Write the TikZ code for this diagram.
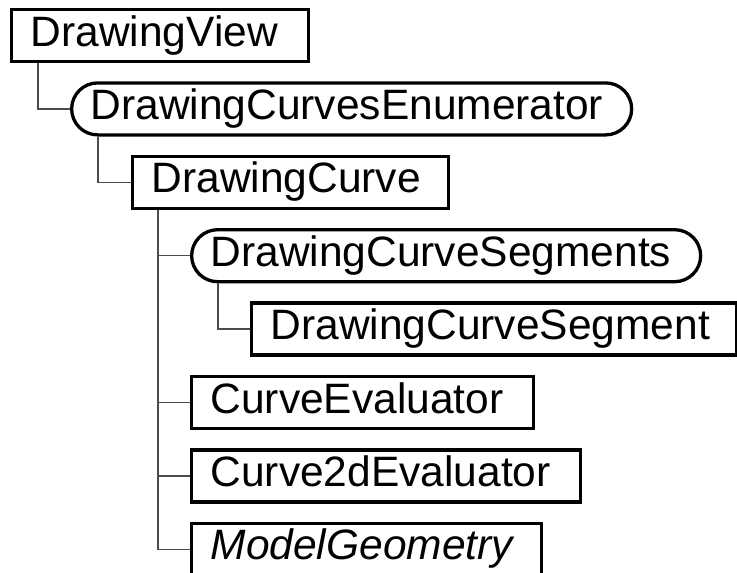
\documentclass[tikz,border=0pt]{standalone}
\usepackage{fontspec}
\setmainfont{Liberation Sans}
\usetikzlibrary{positioning,calc}
\tikzset{
  classbox/.style={draw, line width=3.3pt, minimum height=52pt, inner xsep=19pt,
                   inner ysep=0pt, anchor=west, align=left,
                   text height=30pt, text depth=9pt,
                   font=\fontsize{42.5}{48}\selectfont},
  setbox/.style={classbox, rounded corners=26pt},
  treeline/.style={draw=black!70, line width=1.3pt}
}

\begin{document}
\begin{tikzpicture}[x=1pt, y=-1pt]
    \path[use as bounding box, clip] (0,0) rectangle (737,573);
    \def\xA{10} \def\xB{70} \def\xC{131} \def\xD{190} \def\xE{250}
    \def\dy{73.4}

    % class tree
    \node[classbox, text width=259pt] (DV)   at (\xA, 35.5)        {DrawingView};
    \node[setbox,   text width=522pt] (DCE)  at (\xB, 35.5+\dy)    {DrawingCurvesEnumerator};
    \node[classbox, text width=278pt] (DC)   at (\xC, 35.5+2*\dy)  {DrawingCurve};
    \node[setbox,   text width=471pt] (DCSs) at (\xD, 35.5+3*\dy)  {DrawingCurveSegments};
    \node[classbox, text width=447pt] (DCS)  at (\xE, 35.5+4*\dy)  {DrawingCurveSegment};
    \node[classbox, text width=304pt] (CE)   at (\xD, 35.5+5*\dy)  {CurveEvaluator};
    \node[classbox, text width=351pt] (C2E)  at (\xD, 35.5+6*\dy)  {Curve2dEvaluator};
    \node[classbox, text width=312pt] (MG)   at (\xD, 35.5+7*\dy)  {\textit{ModelGeometry}};

    % connectors
    \draw[treeline] ([xshift=28pt]DV.south west)   |- (DCE.west);
    \draw[treeline] ([xshift=28pt]DCE.south west)  |- (DC.west);
    \draw[treeline] ([xshift=27pt]DC.south west)   |- (DCSs.west);
    \draw[treeline] ([xshift=28pt]DCSs.south west) |- (DCS.west);
    \draw[treeline] ([xshift=27pt]DC.south west)   |- (CE.west);
    \draw[treeline] ([xshift=27pt]DC.south west)   |- (C2E.west);
    \draw[treeline] ([xshift=27pt]DC.south west)   |- (MG.west);
\end{tikzpicture}
\end{document}
